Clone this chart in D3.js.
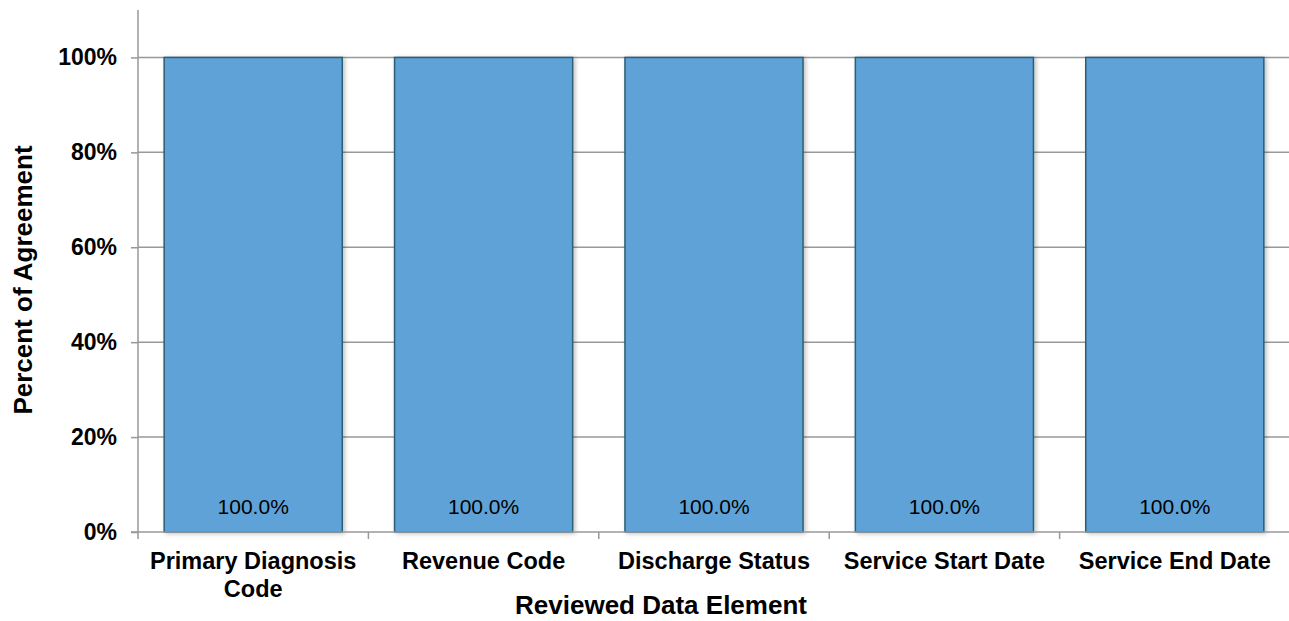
<!DOCTYPE html>
<html>
<head>
<meta charset="utf-8">
<script src="https://cdn.jsdelivr.net/npm/d3@7"></script>
<style>
  body { margin: 0; background: #fff; }
  svg { font-family: "Liberation Sans", Arial, sans-serif; }
</style>
</head>
<body>
<div id="chart"></div>
<script>
// chart data
const categories = [["Primary Diagnosis", "Code"], ["Revenue Code"], ["Discharge Status"], ["Service Start Date"], ["Service End Date"]];
const values = [1.0, 1.0, 1.0, 1.0, 1.0];
const yTicks = [0, 0.2, 0.4, 0.6, 0.8, 1.0];

const width = 1289;
const height = 621;
const margin = { top: 10, right: -1, bottom: 89, left: 138 };

const svg = d3.select("#chart")
    .append("svg")
    .attr("width", width)
    .attr("height", height);

const x = d3.scaleBand()
    .domain(categories.map((d, i) => i))
    .range([margin.left, width - margin.right])
    .paddingInner(0.227)
    .paddingOuter(0.1135);

const y = d3.scaleLinear()
    .domain([0, 1.1])
    .range([height - margin.bottom, margin.top]);

const defs = svg.append("defs");
const shadow = defs.append("filter").attr("id", "shadow")
    .attr("x", "-10%").attr("y", "-10%").attr("width", "120%").attr("height", "120%");
shadow.append("feDropShadow")
    .attr("dx", 2).attr("dy", 1).attr("stdDeviation", 2)
    .attr("flood-color", "#000").attr("flood-opacity", 0.25);

// gridlines
svg.append("g")
    .selectAll("line")
    .data(yTicks.filter(d => d > 0))
    .enter().append("line")
    .attr("x1", margin.left)
    .attr("x2", width)
    .attr("y1", d => y(d))
    .attr("y2", d => y(d))
    .attr("stroke", "#999")
    .attr("stroke-width", 1.5);

// bars
svg.append("g")
    .selectAll("rect")
    .data(values)
    .enter().append("rect")
    .attr("x", (d, i) => x(i))
    .attr("y", d => y(d))
    .attr("width", x.bandwidth())
    .attr("height", d => y(0) - y(d))
    .attr("fill", "#5fa2d7")
    .attr("stroke", "#2b5f75")
    .attr("stroke-width", 1.5)
    .attr("filter", "url(#shadow)");

// data labels
svg.append("g")
    .selectAll("text")
    .data(values)
    .enter().append("text")
    .attr("x", (d, i) => x(i) + x.bandwidth() / 2)
    .attr("y", y(0) - 18)
    .attr("text-anchor", "middle")
    .attr("font-size", 21)
    .attr("fill", "#000")
    .text(d => d3.format(".1%")(d));

// y axis
const yAxis = svg.append("g")
    .attr("transform", `translate(${margin.left},0)`)
    .call(d3.axisLeft(y).tickValues(yTicks).tickFormat(d3.format(".0%")).tickSize(7).tickPadding(14));
yAxis.select(".domain").attr("stroke", "#999").attr("stroke-width", 1.5)
    .attr("d", `M0,${y(1.1)}V${y(0)}`);
yAxis.selectAll(".tick line").attr("stroke", "#999").attr("stroke-width", 1.5);
yAxis.selectAll(".tick text")
    .attr("font-size", 23).attr("font-weight", "bold").attr("fill", "#000")
    .attr("font-family", "Liberation Sans, Arial, sans-serif");

// x axis baseline + ticks at category boundaries
const xg = svg.append("g");
xg.append("line")
    .attr("x1", margin.left - 7).attr("x2", width)
    .attr("y1", y(0)).attr("y2", y(0))
    .attr("stroke", "#999").attr("stroke-width", 1.5);
const step = x.step();
xg.selectAll("line.tk")
    .data(d3.range(categories.length + 1))
    .enter().append("line")
    .attr("class", "tk")
    .attr("x1", i => margin.left + i * step)
    .attr("x2", i => margin.left + i * step)
    .attr("y1", y(0))
    .attr("y2", y(0) + 7)
    .attr("stroke", "#999").attr("stroke-width", 1.5);

// category labels
const labels = xg.selectAll("text.cat")
    .data(categories)
    .enter().append("text")
    .attr("class", "cat")
    .attr("x", (d, i) => x(i) + x.bandwidth() / 2)
    .attr("y", y(0) + 37)
    .attr("text-anchor", "middle")
    .attr("font-size", 23.5)
    .attr("font-weight", "bold");
labels.each(function(d) {
    const t = d3.select(this);
    d.forEach((line, k) => {
        t.append("tspan")
            .attr("x", t.attr("x"))
            .attr("dy", k === 0 ? 0 : 28)
            .text(line);
    });
});

// axis titles
svg.append("text")
    .attr("x", 661)
    .attr("y", 614)
    .attr("text-anchor", "middle")
    .attr("font-size", 26)
    .attr("font-weight", "bold")
    .text("Reviewed Data Element");

svg.append("text")
    .attr("transform", "translate(32,280) rotate(-90)")
    .attr("text-anchor", "middle")
    .attr("font-size", 26)
    .attr("font-weight", "bold")
    .text("Percent of Agreement");
</script>
</body>
</html>
